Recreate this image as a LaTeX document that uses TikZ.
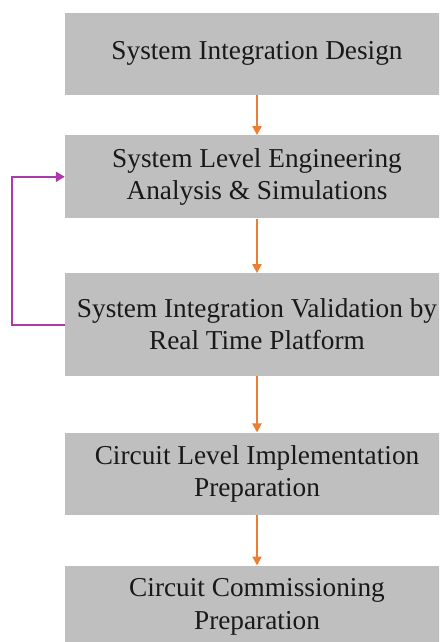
\documentclass[tikz,border=0pt]{standalone}
\usepackage{fontspec}
\setmainfont{Liberation Serif}
\usetikzlibrary{arrows.meta}
\definecolor{boxgray}{RGB}{191,191,191}
\definecolor{arroworange}{RGB}{237,125,49}
\definecolor{loopviolet}{RGB}{172,58,172}
\begin{document}
\begin{tikzpicture}[x=1pt,y=-1pt,
  stage/.style={rectangle, fill=boxgray, draw=none, minimum width=384pt, inner sep=0pt,
    align=center, font=\fontsize{27.3}{32.3}\selectfont, text=black!90},
  flow/.style={draw=arroworange, line width=2pt, -{Triangle[length=9pt,width=9pt]}},
  loopback/.style={draw=loopviolet, line width=2pt, -{Triangle[length=9pt,width=10pt]}}]
\useasboundingbox (0,0) rectangle (439,642);
\clip (0,0) rectangle (439,642);
\node[stage, minimum height=82.3pt] (s1) at (257,53.8) {System Integration Design};
\node[stage, minimum height=83pt] (s2) at (257,176.8) {System Level Engineering\\Analysis \& Simulations};
\node[stage, minimum height=102.4pt] (s3) at (257,324.5) {System Integration Validation by\\Real Time Platform};
\node[stage, minimum height=82.3pt] (s4) at (257,473.8) {Circuit Level Implementation\\Preparation};
\node[stage, minimum height=82.6pt] (s5) at (257,607) {Circuit Commissioning\\Preparation};
\draw[flow] (s1.south) -- (s2.north);
\draw[flow] (s2.south) -- (s3.north);
\draw[flow] (s3.south) -- (s4.north);
\draw[flow] (s4.south) -- (s5.north);
\coordinate (lx) at (12.3,250);
\draw[loopback] (s3.west) -- (s3.west -| lx) |- (s2.west);
\end{tikzpicture}
\end{document}
